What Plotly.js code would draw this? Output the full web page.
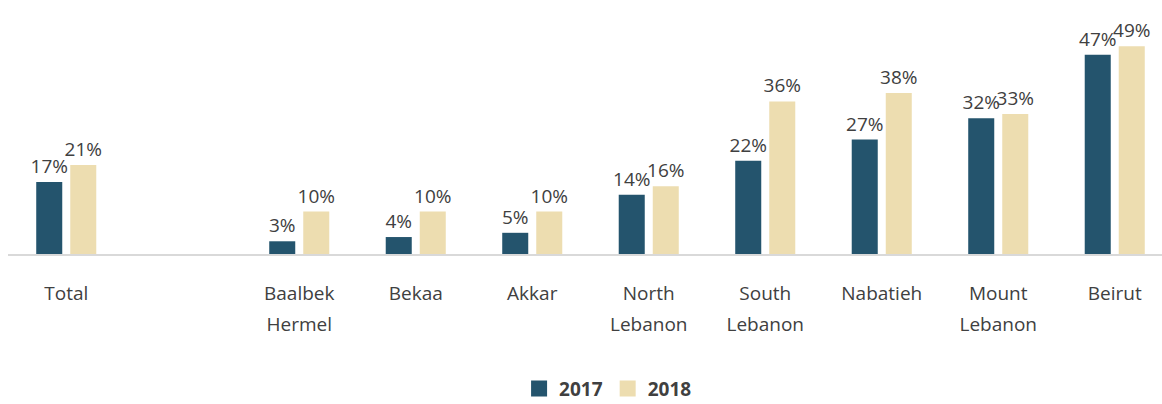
<!DOCTYPE html>
<html>
<head>
<meta charset="utf-8">
<script src="https://cdn.plot.ly/plotly-3.0.1.min.js"></script>
<style>
html,body{margin:0;padding:0;background:#fff;}
#chart{width:1162px;height:404px;}
</style>
</head>
<body>
<div id="chart"></div>
<script>
// ---- data ----
var categories = ["Total", " ", "Baalbek Hermel", "Bekaa", "Akkar", "North Lebanon", "South Lebanon", "Nabatieh", "Mount Lebanon", "Beirut"];
var tickLabels = ["Total", "", "Baalbek<br>Hermel", "Bekaa", "Akkar", "North<br>Lebanon", "South<br>Lebanon", "Nabatieh", "Mount<br>Lebanon", "Beirut"];
var values2017 = [17, null, 3, 4, 5, 14, 22, 27, 32, 47];
var values2018 = [21, null, 10, 10, 10, 16, 36, 38, 33, 49];
var seriesNames = ["2017", "2018"];

var colors = ["#24546D", "#EDDDB0"];
var textColor = "#404040";
var fontFamily = "'Open Sans', 'DejaVu Sans', sans-serif";

function pctText(arr) {
  return arr.map(function (v) { return v === null ? "" : v + "%"; });
}

function barTrace(vals, name, color) {
  return {
    type: "bar",
    x: categories,
    y: vals,
    name: name,
    text: pctText(vals),
    textposition: "outside",
    textangle: 0,
    constraintext: "none",
    cliponaxis: false,
    textfont: {family: fontFamily, size: 19, color: textColor},
    marker: {color: color},
    showlegend: false,
    hoverinfo: "x+y"
  };
}

function legendTrace(name, color) {
  return {
    type: "scatter",
    mode: "markers",
    x: [null],
    y: [null],
    name: name,
    marker: {symbol: "square", size: 16, color: color},
    showlegend: true,
    hoverinfo: "skip"
  };
}

var data = [
  barTrace(values2017, seriesNames[0], colors[0]),
  barTrace(values2018, seriesNames[1], colors[1]),
  legendTrace(seriesNames[0], colors[0]),
  legendTrace(seriesNames[1], colors[1])
];

var tickText = tickLabels.map(function (t) {
  return '<span style="font-size:19px">' + t + '</span>';
});

var layout = {
  width: 1162,
  height: 404,
  margin: {l: 8, r: 0, t: 20, b: 150, pad: 0, autoexpand: false},
  paper_bgcolor: "#ffffff",
  plot_bgcolor: "#ffffff",
  font: {family: fontFamily, color: textColor},
  barmode: "group",
  bargap: 0.416,
  bargroupgap: 0.235,
  showlegend: true,
  legend: {
    orientation: "h",
    x: 0.52,
    xanchor: "center",
    y: -0.575,
    yanchor: "middle",
    font: {family: fontFamily, size: 19, color: "#404040", weight: "bold"},
    itemwidth: 30,
    traceorder: "normal"
  },
  xaxis: {
    type: "category",
    range: [-0.5, 9.4056],
    tickmode: "array",
    tickvals: categories,
    ticktext: tickText,
    tickfont: {family: fontFamily, size: 24, color: textColor},
    ticks: "outside",
    ticklen: 15,
    tickcolor: "rgba(0,0,0,0)",
    showline: true,
    linecolor: "#d9d9d9",
    linewidth: 2,
    showgrid: false,
    zeroline: false,
    fixedrange: true
  },
  yaxis: {
    visible: false,
    range: [0, 55.2],
    showgrid: false,
    zeroline: false,
    fixedrange: true
  }
};

Plotly.newPlot("chart", data, layout, {displayModeBar: false, staticPlot: true});
</script>
</body>
</html>
